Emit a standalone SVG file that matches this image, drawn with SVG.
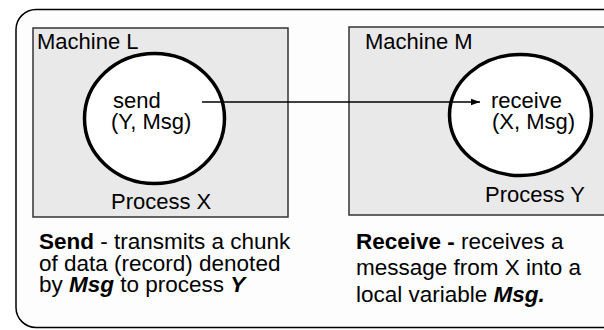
<svg xmlns="http://www.w3.org/2000/svg" width="604" height="330" viewBox="0 0 604 330">
  <defs>
    <marker id="arrowhead" markerWidth="10" markerHeight="8" refX="9" refY="4" orient="auto" markerUnits="userSpaceOnUse">
      <path d="M0,0.8 L9,4 L0,7.2 Z" fill="#000"/>
    </marker>
    <style>
      .frame { fill: #fdfdfd; stroke: #000; stroke-width: 1.5; }
      .machine { fill: #e9e9e9; stroke: #333; stroke-width: 1.5; }
      .proc { fill: #fff; stroke: #000; stroke-width: 3.5; }
      .label { font-family: "Liberation Sans", Arial, sans-serif; font-size: 22px; fill: #000; }
      .caption { font-size: 22.5px; }
      .b { font-weight: bold; }
      .bi { font-weight: bold; font-style: italic; }
      .link { stroke: #000; stroke-width: 1.3; fill: none; }
    </style>
  </defs>

  <!-- outer frame -->
  <rect class="frame" x="16" y="9.5" width="620" height="318" rx="20" ry="20"/>

  <!-- sending machine -->
  <g id="machine-l">
    <rect class="machine" x="33" y="28" width="255" height="189"/>
    <text class="label" x="37" y="48.5">Machine L</text>
    <text class="label" x="111" y="208.5">Process X</text>
  </g>
  <g id="process-x">
    <ellipse class="proc" cx="154.5" cy="118.5" rx="70" ry="65"/>
    <text class="label"><tspan x="113" y="108">send</tspan><tspan x="111" y="129">(Y, Msg)</tspan></text>
  </g>

  <!-- receiving machine -->
  <g id="machine-m">
    <rect class="machine" x="349" y="27" width="280" height="188"/>
    <text class="label" x="365" y="48.5">Machine M</text>
    <text class="label" x="485" y="202">Process Y</text>
  </g>
  <g id="process-y">
    <ellipse class="proc" cx="520.5" cy="115" rx="71" ry="60.5"/>
    <text class="label"><tspan x="491" y="108">receive</tspan><tspan x="492" y="129">(X, Msg)</tspan></text>
  </g>

  <!-- message link -->
  <g id="connectors">
    <line class="link" x1="202" y1="102" x2="480" y2="102" marker-end="url(#arrowhead)"/>
  </g>

  <!-- captions -->
  <g id="send-caption">
    <text class="label caption"><tspan x="39" y="248.5"><tspan class="b">Send</tspan> - transmits a chunk</tspan><tspan x="39" y="270.5">of data (record) denoted</tspan><tspan x="39" y="292">by <tspan class="bi">Msg</tspan> to process <tspan class="bi">Y</tspan></tspan></text>
  </g>
  <g id="receive-caption">
    <text class="label caption"><tspan x="356" y="248.5"><tspan class="b">Receive -</tspan> receives a</tspan><tspan x="356" y="275">message from X into a</tspan><tspan x="356" y="302">local variable <tspan class="bi">Msg.</tspan></tspan></text>
  </g>
</svg>
